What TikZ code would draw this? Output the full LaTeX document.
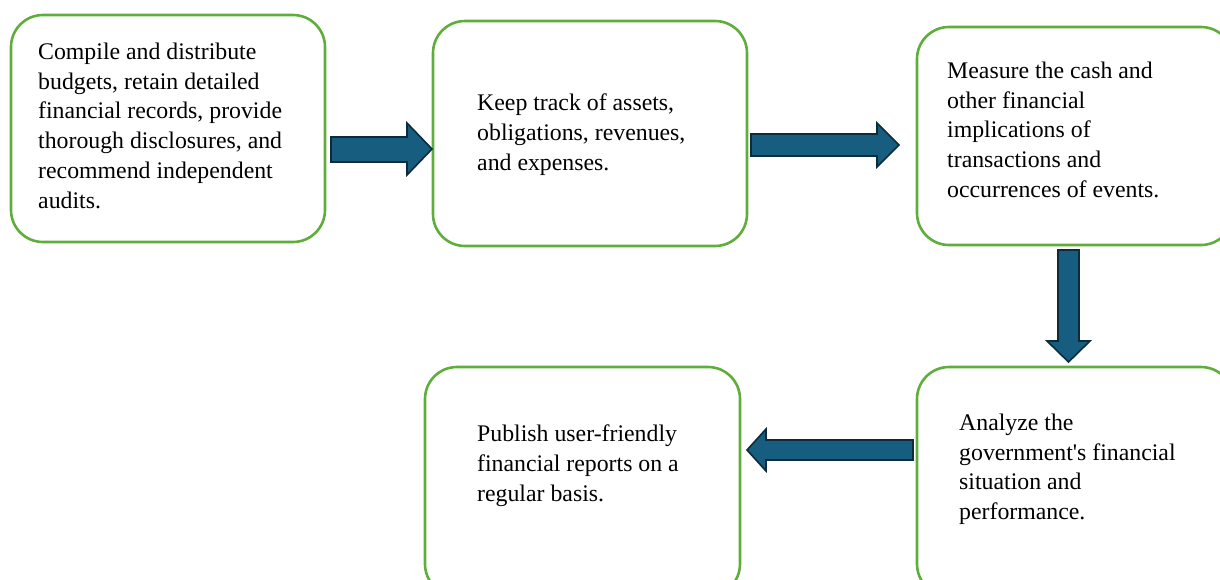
\documentclass[tikz,border=0pt]{standalone}
\usepackage{fontspec}
\setmainfont{Liberation Serif}
\newcommand{\straightq}{\XeTeXglyph\XeTeXcharglyph"0027\relax}
\definecolor{boxgreen}{HTML}{5FAE3C}
\definecolor{arrowfill}{HTML}{175D80}
\definecolor{arrowline}{HTML}{0E2B3C}
\begin{document}
\begin{tikzpicture}[x=1pt,y=-1pt,
  flowbox/.style={draw=boxgreen,line width=2.6pt,rounded corners=32pt,fill=white},
  boxtext/.style={anchor=north west,inner sep=0pt,align=left,font=\fontsize{23.8}{29.8}\selectfont},
  blockarrow/.style={fill=arrowfill,draw=arrowline,line width=1.6pt,line join=miter}]
\useasboundingbox (0,0) rectangle (1220,579);
\clip (0,0) rectangle (1220,579);
% boxes
\draw[flowbox] (11,15) rectangle (325,242);
\draw[flowbox] (433,21) rectangle (747,246);
\draw[flowbox] (917,27) rectangle (1233,245);
\draw[flowbox] (917,367) rectangle (1233,596);
\draw[flowbox] (425,367) rectangle (740,596);
% texts
\node[boxtext] (t1) at (38,42.6) {Compile and distribute\\budgets, retain detailed\\financial records, provide\\thorough disclosures, and\\recommend independent\\audits.};
\node[boxtext] (t2) at (477,93.6) {Keep track of assets,\\obligations, revenues,\\and expenses.};
\node[boxtext] (t3) at (947,61.6) {Measure the cash and\\other financial\\implications of\\transactions and\\occurrences of events.};
\node[boxtext] (t4) at (959,413.6) {Analyze the\\government\straightq s financial\\situation and\\performance.};
\node[boxtext] (t5) at (477,424.6) {Publish user-friendly\\financial reports on a\\regular basis.};
% arrows
\draw[blockarrow] (331,137) -- (407,137) -- (407,123) -- (432,149) -- (407,175) -- (407,162) -- (331,162) -- cycle;
\draw[blockarrow] (751,134) -- (877,134) -- (877,123) -- (899,145) -- (877,167) -- (877,156) -- (751,156) -- cycle;
\draw[blockarrow] (1058,250) -- (1079,250) -- (1079,341) -- (1090,341) -- (1068.5,362) -- (1047,341) -- (1058,341) -- cycle;
\draw[blockarrow] (913,440) -- (766,440) -- (766,429) -- (747,450) -- (766,471) -- (766,460) -- (913,460) -- cycle;
\end{tikzpicture}
\end{document}
